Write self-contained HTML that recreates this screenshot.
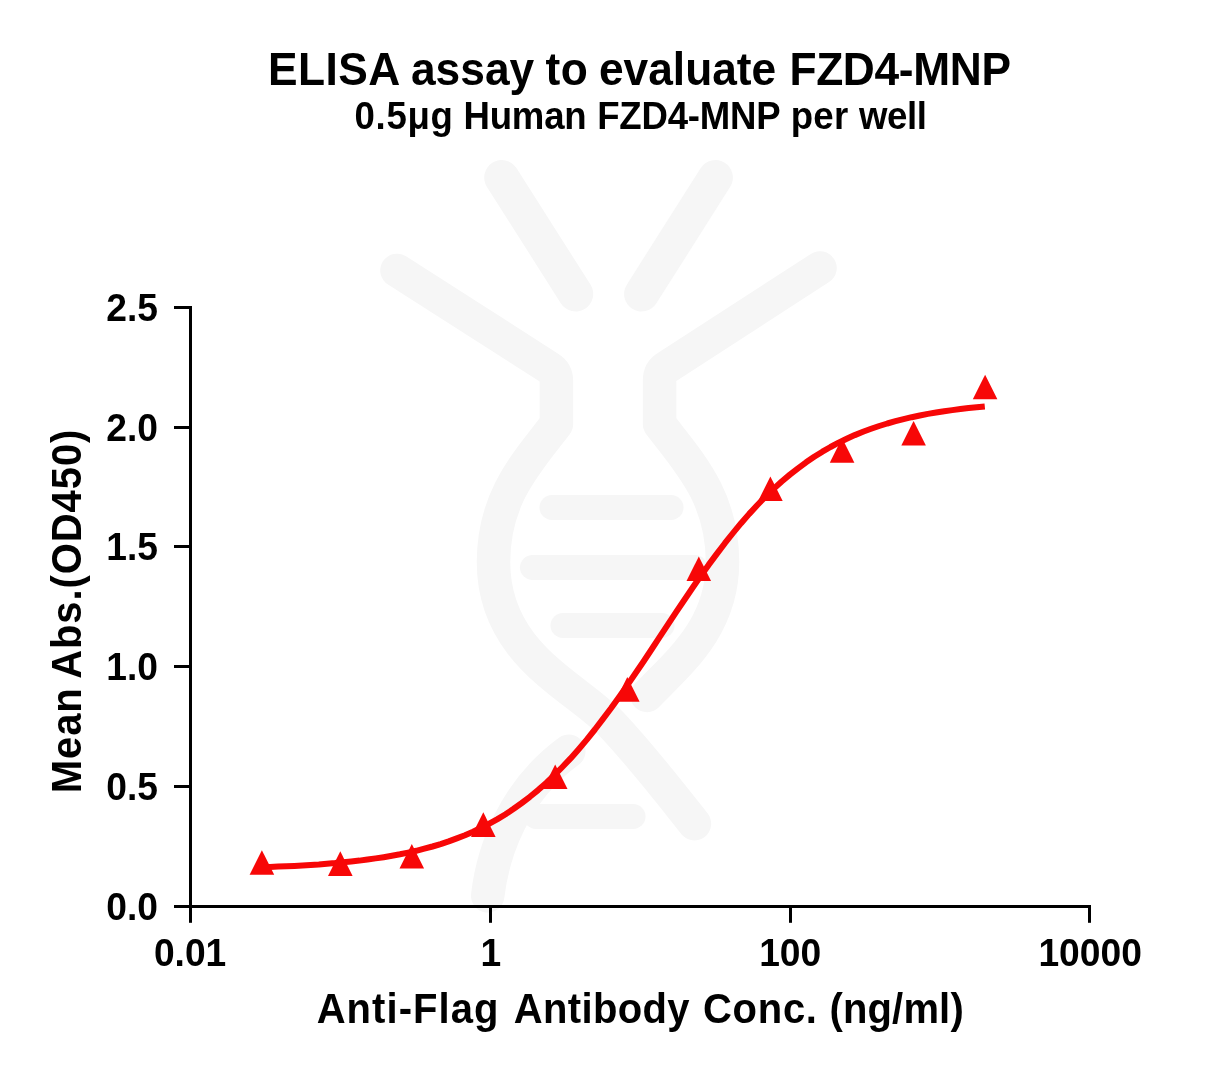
<!DOCTYPE html>
<html lang="en">
<head>
<meta charset="utf-8">
<title>ELISA assay to evaluate FZD4-MNP</title>
<style>
html,body{margin:0;padding:0;background:#fff;}
body{width:1217px;height:1075px;overflow:hidden;font-family:"Liberation Sans",Arial,sans-serif;}
svg{display:block;}
text{font-family:"Liberation Sans",Arial,sans-serif;font-weight:bold;fill:#000;}
.tick text{font-size:37.2px;}
</style>
</head>
<body>
<svg width="1217" height="1075" viewBox="0 0 1217 1075">
<rect width="1217" height="1075" fill="#fff"/>
<!-- watermark -->
<g id="wm" fill="none" stroke="#f6f6f6" stroke-linecap="round" stroke-linejoin="round">
<g stroke-width="35">
<path d="M501.7,177.5 L575.7,294"/>
<path d="M715.4,177.5 L641.6,294"/>
</g>
<g stroke-width="33.5">
<path d="M397,270.4 L549.5,368 Q556.4,372.4 556.4,381 L556.4,424 C528.4,460.8 493.5,496.1 493.5,562 C493.5,654.3 575,686 610.7,723.3 C638,752 668,790 694.4,823.7"/>
<path d="M820,268 L666.5,367.4 Q659.6,371.8 659.6,380.5 L659.6,424 C687.6,460.8 722.5,496.1 722.5,562 C722.5,627.9 678.4,662.6 647,695.4"/>
<path d="M568.8,751.2 C513.1,791.9 492.8,852.4 487.7,895.8"/>
</g>
<g stroke-width="25">
<path d="M552,507.5 L671,507.5"/>
<path d="M532.5,567.5 L695,567.5"/>
<path d="M563,625.5 L662,625.5"/>
<path d="M536,816.5 L633,816.5"/>
</g>
</g>
<!-- titles -->
<text transform="translate(268.0,84.9) scale(1,1.03)" font-size="44.3" style="letter-spacing:0.45px">ELISA</text>
<text transform="translate(410.9,84.9) scale(1,1.03)" font-size="44.3" style="letter-spacing:0.05px">assay</text>
<text transform="translate(545.5,84.9) scale(1,1.03)" font-size="44.3" style="letter-spacing:0.4px">to</text>
<text transform="translate(598.95,84.9) scale(1,1.03)" font-size="44.3" style="letter-spacing:0.0px">evaluate</text>
<text transform="translate(789.4,84.9) scale(1,1.03)" font-size="44.3" style="letter-spacing:-0.314px">FZD4-MNP</text>
<text transform="translate(354.5,128.8) scale(1,1.05)" font-size="36.6" style="letter-spacing:0.7px">0.5μg</text>
<text transform="translate(463.5,128.8) scale(1,1.05)" font-size="36.6" style="letter-spacing:-0.2px">Human</text>
<text transform="translate(597.25,128.8) scale(1,1.05)" font-size="36.6" style="letter-spacing:-0.229px">FZD4-MNP</text>
<text transform="translate(790.7,128.8) scale(1,1.05)" font-size="36.6" style="letter-spacing:0.3px">per</text>
<text transform="translate(859.0,128.8) scale(1,1.05)" font-size="36.6" style="letter-spacing:-0.4px">well</text>
<!-- axes -->
<g fill="#000">
<rect x="189" y="306" width="3" height="602"/>
<rect x="174" y="905" width="917" height="3"/>
<rect x="174" y="905.0" width="16" height="3"/>
<rect x="174" y="785.0" width="16" height="3"/>
<rect x="174" y="665.0" width="16" height="3"/>
<rect x="174" y="545.0" width="16" height="3"/>
<rect x="174" y="426.0" width="16" height="3"/>
<rect x="174" y="306.0" width="16" height="3"/>
<rect x="189.0" y="906" width="3" height="16.8"/>
<rect x="489.0" y="906" width="3" height="16.8"/>
<rect x="789.0" y="906" width="3" height="16.8"/>
<rect x="1088.0" y="906" width="3" height="16.8"/>
</g>
<g class="tick">
<text transform="translate(157.9,919.9) scale(1,1.03)" text-anchor="end">0.0</text>
<text transform="translate(157.9,799.9) scale(1,1.03)" text-anchor="end">0.5</text>
<text transform="translate(157.9,679.9) scale(1,1.03)" text-anchor="end">1.0</text>
<text transform="translate(157.9,559.9) scale(1,1.03)" text-anchor="end">1.5</text>
<text transform="translate(157.9,440.9) scale(1,1.03)" text-anchor="end">2.0</text>
<text transform="translate(157.9,320.9) scale(1,1.03)" text-anchor="end">2.5</text>
<text transform="translate(190.1,965.8) scale(1,1.03)" text-anchor="middle">0.01</text>
<text transform="translate(490.9,965.8) scale(1,1.03)" text-anchor="middle">1</text>
<text transform="translate(790.2,965.8) scale(1,1.03)" text-anchor="middle">100</text>
<text transform="translate(1090.1,965.8) scale(1,1.03)" text-anchor="middle">10000</text>
</g>
<text transform="translate(81.0,1000) rotate(-90) translate(206.7,0) scale(1,1.055)" font-size="40" style="letter-spacing:0.933px">Mean</text>
<text transform="translate(81.0,1000) rotate(-90) translate(321.2,0) scale(1,1.055)" font-size="40" style="letter-spacing:0.92px">Abs.(OD450)</text>
<text transform="translate(316.65,1023.1) scale(1,1.05)" font-size="40" style="letter-spacing:1.075px">Anti-Flag</text>
<text transform="translate(513.85,1023.1) scale(1,1.05)" font-size="40" style="letter-spacing:0.343px">Antibody</text>
<text transform="translate(702.9,1023.1) scale(1,1.05)" font-size="40" style="letter-spacing:0.75px">Conc.</text>
<text transform="translate(829.45,1023.1) scale(1,1.05)" font-size="40" style="letter-spacing:0.167px">(ng/ml)</text>
<!-- data -->
<path d="M261.9,867.3 L270.0,867.0 L278.1,866.6 L286.3,866.3 L294.4,865.9 L302.5,865.4 L310.6,864.9 L318.8,864.4 L326.9,863.7 L335.0,863.1 L343.1,862.3 L351.2,861.5 L359.4,860.6 L367.5,859.5 L375.6,858.4 L383.7,857.2 L391.9,855.8 L400.0,854.3 L408.1,852.6 L416.2,850.8 L424.3,848.7 L432.5,846.5 L440.6,844.1 L448.7,841.4 L456.8,838.4 L465.0,835.2 L473.1,831.7 L481.2,827.8 L489.3,823.7 L497.5,819.1 L505.6,814.2 L513.7,808.8 L521.8,803.0 L529.9,796.8 L538.1,790.1 L546.2,782.9 L554.3,775.2 L562.4,767.0 L570.6,758.4 L578.7,749.2 L586.8,739.6 L594.9,729.5 L603.0,718.9 L611.2,708.0 L619.3,696.7 L627.4,685.1 L635.5,673.3 L643.7,661.2 L651.8,649.0 L659.9,636.7 L668.0,624.4 L676.1,612.1 L684.3,600.0 L692.4,588.0 L700.5,576.3 L708.6,564.9 L716.8,553.9 L724.9,543.2 L733.0,533.0 L741.1,523.2 L749.2,513.9 L757.4,505.0 L765.5,496.7 L773.6,488.9 L781.7,481.5 L789.9,474.6 L798.0,468.3 L806.1,462.3 L814.2,456.8 L822.4,451.7 L830.5,447.0 L838.6,442.7 L846.7,438.8 L854.8,435.1 L863.0,431.8 L871.1,428.8 L879.2,426.0 L887.3,423.5 L895.5,421.2 L903.6,419.1 L911.7,417.2 L919.8,415.5 L927.9,413.9 L936.1,412.5 L944.2,411.2 L952.3,410.1 L960.4,409.0 L968.6,408.0 L976.7,407.2 L984.8,406.4" fill="none" stroke="#f70707" stroke-width="6" stroke-linecap="butt" stroke-linejoin="round"/>
<g fill="#f70707">
<path d="M249.6,874.8 L274.2,874.8 L261.9,850.2 Z"/>
<path d="M328.0,875.9 L352.6,875.9 L340.3,851.3 Z"/>
<path d="M399.5,868.5 L424.1,868.5 L411.8,843.9 Z"/>
<path d="M471.0,836.9 L495.6,836.9 L483.3,812.3 Z"/>
<path d="M542.9,789.0 L567.5,789.0 L555.2,764.4 Z"/>
<path d="M615.0,701.7 L639.6,701.7 L627.3,677.1 Z"/>
<path d="M686.5,581.1 L711.1,581.1 L698.8,556.5 Z"/>
<path d="M758.1,501.1 L782.7,501.1 L770.4,476.5 Z"/>
<path d="M829.8,462.7 L854.4,462.7 L842.1,438.1 Z"/>
<path d="M901.3,445.5 L925.9,445.5 L913.6,420.9 Z"/>
<path d="M972.8,399.3 L997.4,399.3 L985.1,374.7 Z"/>
</g>
</svg>
</body>
</html>
